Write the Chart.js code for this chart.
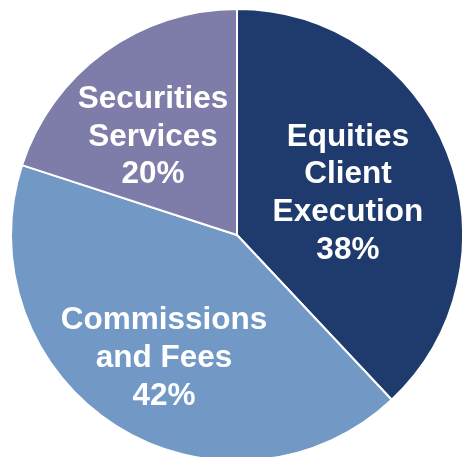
<!DOCTYPE html>
<html>
<head>
<meta charset="utf-8">
<script src="https://cdn.jsdelivr.net/npm/chart.js@4.4.0/dist/chart.umd.min.js"></script>
<style>
html,body{margin:0;padding:0;background:#fff;overflow:hidden;width:462px;height:457px;}
#c{position:absolute;left:0;top:0;}
</style>
</head>
<body>
<canvas id="c" width="480" height="480"></canvas>
<script>
const categories = ["Equities Client Execution", "Commissions and Fees", "Securities Services"];
const values = [38, 42, 20];
const labelLines = [["Equities", "Client", "Execution", "38%"], ["Commissions", "and Fees", "42%"], ["Securities", "Services", "20%"]];
const colors = ["#1F3A6C", "#7299C6", "#7E7CA8"];
const labelRadius = [0.527, 0.627, 0.578];
const labelAngleShift = [0.2, -1.4, -4.0];

const labelPlugin = {
  id: 'pieLabels',
  afterDatasetsDraw(chart) {
    const ctx = chart.ctx;
    const meta = chart.getDatasetMeta(0);
    ctx.save();
    ctx.fillStyle = '#ffffff';
    ctx.font = 'bold 31.5px "Liberation Sans", Arial, sans-serif';
    ctx.textAlign = 'center';
    ctx.textBaseline = 'middle';
    meta.data.forEach((arc, i) => {
      const p = arc.getProps(['x', 'y', 'startAngle', 'endAngle', 'outerRadius'], true);
      const mid = (p.startAngle + p.endAngle) / 2 + labelAngleShift[i] * Math.PI / 180;
      const r = p.outerRadius * labelRadius[i];
      const cx = p.x + Math.cos(mid) * r;
      const cy = p.y + Math.sin(mid) * r + 2;
      const lines = labelLines[i];
      const lh = 37.8;
      const top = cy - (lines.length - 1) * lh / 2;
      lines.forEach((t, j) => ctx.fillText(t, cx, top + j * lh));
    });
    ctx.restore();
  }
};

new Chart(document.getElementById('c'), {
  type: 'pie',
  data: {
    labels: categories,
    datasets: [{
      data: values,
      backgroundColor: colors,
      borderColor: '#ffffff',
      borderWidth: 2
    }]
  },
  options: {
    responsive: false,
    animation: false,
    devicePixelRatio: 1,
    layout: { padding: { left: 10, right: 16, top: 8, bottom: 18 } },
    plugins: { legend: { display: false }, tooltip: { enabled: false } }
  },
  plugins: [labelPlugin]
});
</script>
</body>
</html>
